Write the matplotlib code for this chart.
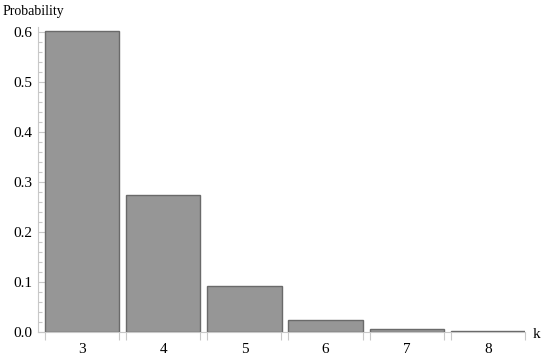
import matplotlib
matplotlib.use("Agg")
import matplotlib.pyplot as plt
import numpy as np
from matplotlib.ticker import MultipleLocator, FixedLocator

k_values = [3, 4, 5, 6, 7, 8]
probabilities = [0.602, 0.274, 0.092, 0.025, 0.0055, 0.0012]
y_tick_labels = ["0.0", "0.1", "0.2", "0.3", "0.4", "0.5", "0.6"]

plt.rcParams['font.family'] = ['Liberation Serif', 'DejaVu Serif']

fig = plt.figure(figsize=(5.5, 3.55), dpi=100)
ax = fig.add_axes([38/550, 1-332/355, (525-38)/550, (332-27)/355])

width = 0.914
ax.bar(k_values, probabilities, width=width, color='#969696', edgecolor='#6a6a6a', linewidth=1.0, zorder=3)

ax.set_xlim(k_values[0] - 0.543, k_values[-1] + 0.457)
ax.set_ylim(0, 0.61)

for s in ['top', 'right']:
    ax.spines[s].set_visible(False)
for s in ['left', 'bottom']:
    ax.spines[s].set_color('#c8c8c8')
    ax.spines[s].set_linewidth(0.8)

ax.set_xticks(k_values)
ax.set_xticklabels([str(k) for k in k_values], fontsize=11)
ax.tick_params(axis='x', which='major', length=0, pad=8)
edges = sorted(set([k - width/2 for k in k_values] + [k + width/2 for k in k_values]))
ax.xaxis.set_minor_locator(FixedLocator(edges))
ax.tick_params(axis='x', which='minor', length=6, direction='out', color='#c8c8c8', width=0.8)

yt = np.arange(len(y_tick_labels)) * 0.1
ax.set_yticks(yt)
ax.set_yticklabels(y_tick_labels, fontsize=11)
ax.yaxis.set_minor_locator(MultipleLocator(0.02))
ax.tick_params(axis='y', which='major', length=5, direction='in', color='#c8c8c8', width=0.8, pad=4)
ax.tick_params(axis='y', which='minor', length=3, direction='in', color='#c8c8c8', width=0.8)

fig.text(3/550, 1-12/355, "Probability", fontsize=10, ha='left', va='center')
fig.text(537/550, 1-334/355, "k", fontsize=11, ha='center', va='center')

fig.savefig("out.png", dpi=100)
